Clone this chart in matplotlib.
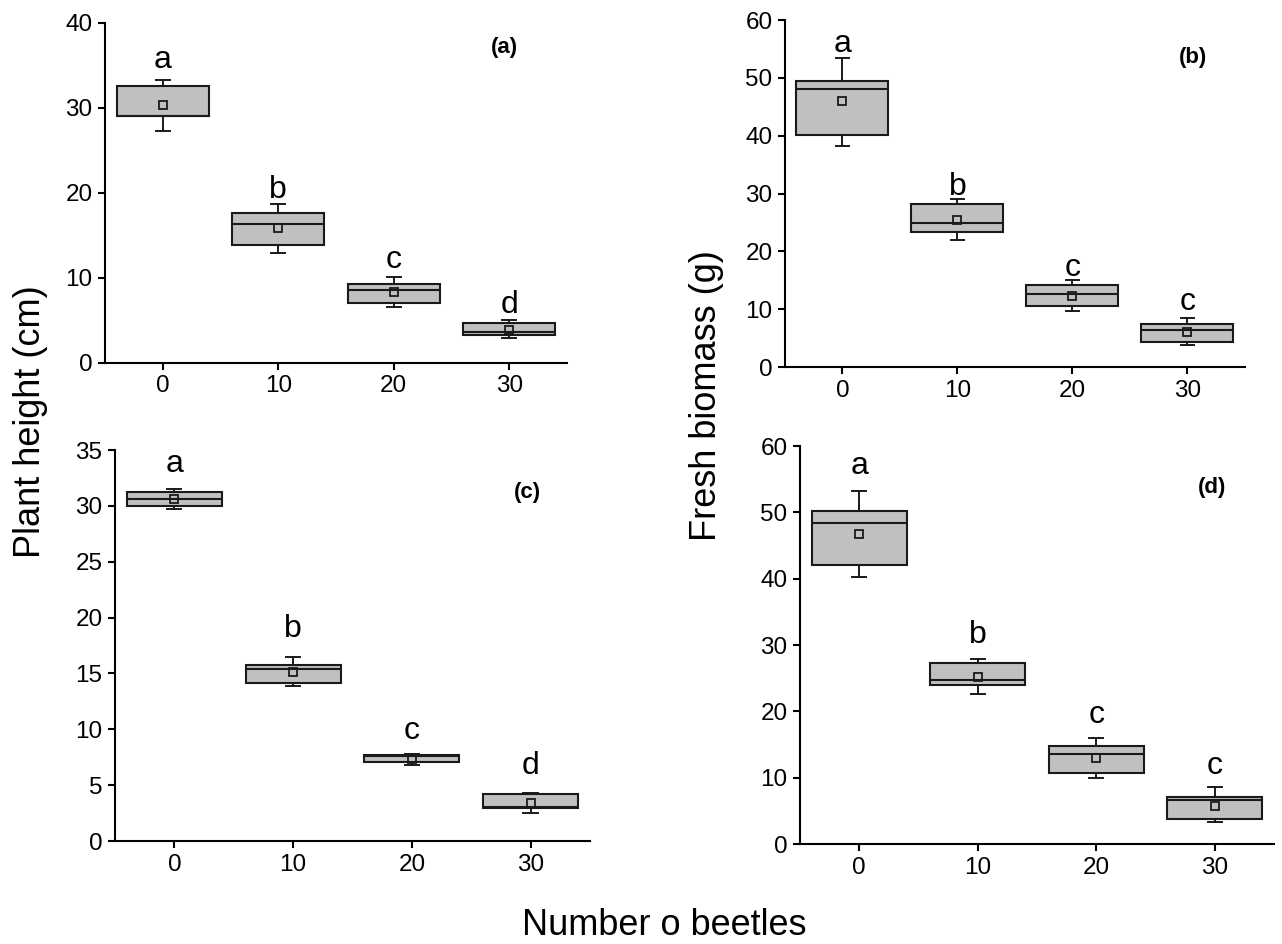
import matplotlib
matplotlib.use('Agg')
import matplotlib.pyplot as plt

plt.rcParams['font.family'] = ['Liberation Sans', 'DejaVu Sans']

beetles = [0, 10, 20, 30]

# (a) plant height, first experiment
a_whislo = [27.25, 12.9, 6.6, 2.9]
a_q1 = [29.0, 13.9, 7.1, 3.3]
a_med = [29.1, 16.3, 8.55, 3.7]
a_q3 = [32.6, 17.7, 9.3, 4.75]
a_whishi = [33.25, 18.7, 10.1, 5.1]
a_mean = [30.3, 15.9, 8.3, 3.9]
a_letters = ['a', 'b', 'c', 'd']
a_letter_y = [34.7, 19.4, 11.2, 5.9]

# (b) fresh biomass, first experiment
b_whislo = [38.3, 22.0, 9.7, 3.85]
b_q1 = [40.1, 23.4, 10.6, 4.4]
b_med = [48.0, 24.9, 12.7, 6.45]
b_q3 = [49.5, 28.15, 14.1, 7.4]
b_whishi = [53.5, 29.0, 15.0, 8.5]
b_mean = [46.0, 25.4, 12.3, 6.1]
b_letters = ['a', 'b', 'c', 'c']
b_letter_y = [54.5, 29.8, 15.8, 9.9]

# (c) plant height, second experiment
c_whislo = [29.7, 13.9, 6.78, 2.54]
c_q1 = [29.98, 14.18, 7.08, 2.99]
c_med = [30.6, 15.4, 7.65, 3.05]
c_q3 = [31.2, 15.74, 7.67, 4.18]
c_whishi = [31.47, 16.48, 7.82, 4.33]
c_mean = [30.65, 15.1, 7.3, 3.43]
c_letters = ['a', 'b', 'c', 'd']
c_letter_y = [33.0, 18.3, 9.1, 6.0]

# (d) fresh biomass, second experiment
d_whislo = [40.3, 22.6, 9.9, 3.3]
d_q1 = [42.0, 23.9, 10.7, 3.8]
d_med = [48.4, 24.7, 13.5, 6.7]
d_q3 = [50.2, 27.26, 14.76, 7.1]
d_whishi = [53.2, 27.96, 16.0, 8.6]
d_mean = [46.8, 25.25, 12.95, 5.8]
d_letters = ['a', 'b', 'c', 'c']
d_letter_y = [55.8, 30.3, 18.2, 10.6]


def make_stats(whislo, q1, med, q3, whishi, mean):
    stats = []
    for i in range(len(beetles)):
        stats.append({'whislo': whislo[i], 'q1': q1[i], 'med': med[i], 'q3': q3[i],
                      'whishi': whishi[i], 'mean': mean[i], 'fliers': []})
    return stats


def draw_panel(ax, stats, letters, letter_y, ymax, ystep, tag, tag_x, tag_y):
    ax.bxp(stats, positions=beetles, widths=8, capwidths=1.2, showmeans=True,
           showfliers=False, patch_artist=True,
           boxprops=dict(facecolor='#c0c0c0', edgecolor='#1a1a1a', linewidth=1.5),
           medianprops=dict(color='#1a1a1a', linewidth=1.5),
           whiskerprops=dict(color='#1a1a1a', linewidth=1.4),
           capprops=dict(color='#1a1a1a', linewidth=1.4),
           meanprops=dict(marker='s', markersize=5.5, markerfacecolor='none',
                          markeredgecolor='#1a1a1a', markeredgewidth=1.3))
    for x, lab, y in zip(beetles, letters, letter_y):
        ax.text(x, y, lab, ha='center', va='baseline', fontsize=23)
    ax.text(tag_x, tag_y, tag, ha='center', va='center', fontsize=16, fontweight='bold')
    ax.set_xlim(-5, 35)
    ax.set_ylim(0, ymax)
    ax.set_xticks(beetles)
    ax.set_xticklabels([str(b) for b in beetles])
    ax.set_yticks(range(0, ymax + 1, ystep))
    ax.spines['top'].set_visible(False)
    ax.spines['right'].set_visible(False)
    ax.spines['left'].set_linewidth(1.5)
    ax.spines['bottom'].set_linewidth(1.5)
    ax.tick_params(direction='out', length=5, width=1.5, labelsize=17.5, pad=4)


fig = plt.figure(figsize=(12.82, 9.44), dpi=100)
ax_a = fig.add_axes([0.0819, 0.6155, 0.3604, 0.3602])
ax_b = fig.add_axes([0.6123, 0.6112, 0.3588, 0.3676])
ax_c = fig.add_axes([0.0897, 0.1091, 0.3705, 0.4142])
ax_d = fig.add_axes([0.6240, 0.1059, 0.3697, 0.4216])

draw_panel(ax_a, make_stats(a_whislo, a_q1, a_med, a_q3, a_whishi, a_mean),
           a_letters, a_letter_y, 40, 10, '(a)', 29.6, 37.1)
draw_panel(ax_b, make_stats(b_whislo, b_q1, b_med, b_q3, b_whishi, b_mean),
           b_letters, b_letter_y, 60, 10, '(b)', 30.5, 53.6)
draw_panel(ax_c, make_stats(c_whislo, c_q1, c_med, c_q3, c_whishi, c_mean),
           c_letters, c_letter_y, 35, 5, '(c)', 29.7, 31.2)
draw_panel(ax_d, make_stats(d_whislo, d_q1, d_med, d_q3, d_whishi, d_mean),
           d_letters, d_letter_y, 60, 10, '(d)', 29.8, 53.8)

fig.text(0.024, 0.553, 'Plant height (cm)', rotation=90, ha='center', va='center', fontsize=26)
fig.text(0.551, 0.581, 'Fresh biomass (g)', rotation=90, ha='center', va='center', fontsize=26)
fig.text(0.518, 0.02, 'Number o beetles', ha='center', va='center', fontsize=26)

fig.savefig('out.png', dpi=100)
